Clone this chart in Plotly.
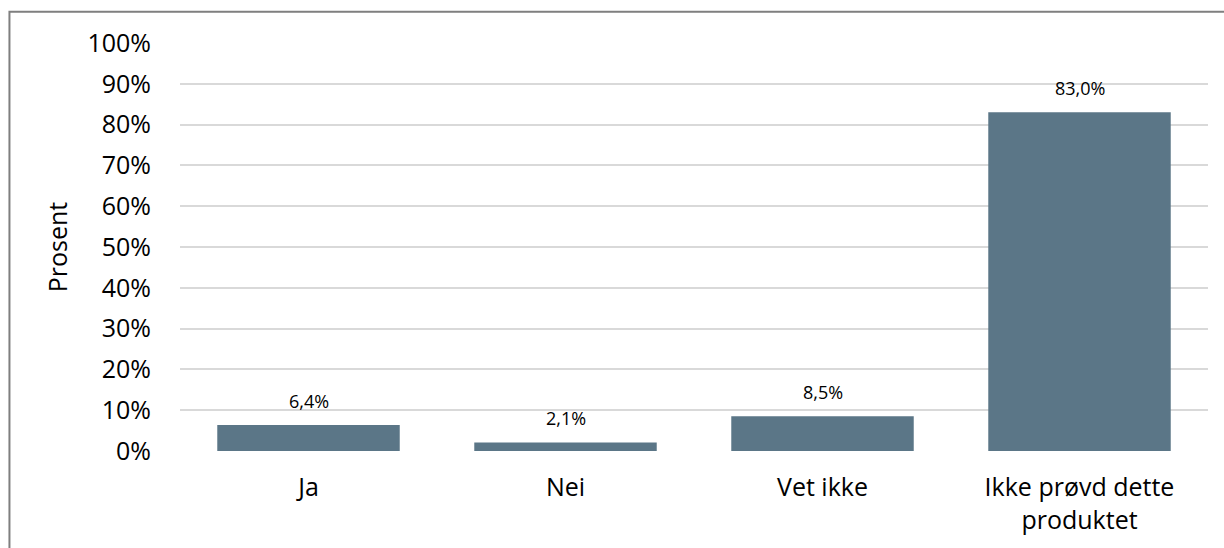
import plotly.graph_objects as go

categories = ["Ja", "Nei", "Vet ikke", "Ikke prøvd dette<br>produktet"]
values = [6.4, 2.1, 8.5, 83.0]
tick_vals = [0, 10, 20, 30, 40, 50, 60, 70, 80, 90, 100]
tick_text = [f"{v}%" for v in tick_vals]
labels = [f"{v:.1f}%".replace(".", ",") for v in values]

FONT = "Open Sans"

fig = go.Figure()
fig.add_trace(go.Bar(x=categories, y=values, marker=dict(color="#5b7687", line=dict(width=0)),
                     hoverinfo="skip"))

for c, v, t in zip(categories, values, labels):
    fig.add_annotation(x=c, y=v, text=t, showarrow=False, yanchor="middle", yshift=24,
                       font=dict(family=FONT, size=18, color="#000000"))

fig.update_layout(
    width=1224, height=548,
    margin=dict(l=180, r=16, t=43, b=97),
    paper_bgcolor="white", plot_bgcolor="white",
    bargap=0.29,
    showlegend=False,
    font=dict(family=FONT, color="#000000"),
    xaxis=dict(showgrid=False, showline=False, ticks="", tickfont=dict(size=25, family=FONT),
               ticklabelstandoff=19, automargin=False),
    yaxis=dict(range=[0, 100], tickvals=tick_vals, ticktext=tick_text, showgrid=True,
               gridcolor="#d9d9d9", gridwidth=2, zeroline=False, showline=False,
               tickfont=dict(size=25, family=FONT), ticklabelstandoff=28, automargin=False,
               title=dict(text="Prosent", font=dict(size=25, family=FONT), standoff=12)),
    shapes=[dict(type="rect", xref="paper", yref="paper", x0=-0.1659, x1=1.05, y0=-0.3, y1=1.0767,
                 line=dict(color="#7f7f7f", width=2), fillcolor="rgba(0,0,0,0)", layer="below")],
)

fig.write_html("out.html", config={"displayModeBar": False},
               post_script="document.body.style.margin='0';document.body.style.overflow='hidden';")
